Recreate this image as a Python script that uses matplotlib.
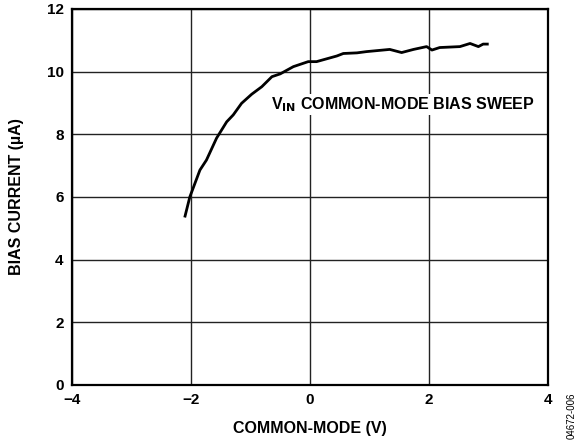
import matplotlib
matplotlib.use('Agg')
import matplotlib.pyplot as plt

plt.rcParams['font.family'] = ['Liberation Sans', 'DejaVu Sans']
plt.rcParams['font.weight'] = 'bold'

# Bias current vs common-mode voltage
vcm = [-2.10, -2.02, -1.85, -1.74, -1.57, -1.40, -1.29, -1.15, -0.98, -0.81,
       -0.64, -0.50, -0.28, -0.03, 0.11, 0.45, 0.56, 0.79, 0.95, 1.34,
       1.54, 1.74, 1.96, 2.05, 2.18, 2.52, 2.69, 2.83, 2.91, 2.98]
ibias = [5.39, 6.00, 6.86, 7.18, 7.88, 8.40, 8.62, 8.99, 9.28, 9.52,
         9.84, 9.93, 10.16, 10.32, 10.32, 10.50, 10.58, 10.60, 10.64, 10.71,
         10.61, 10.71, 10.80, 10.69, 10.77, 10.80, 10.90, 10.80, 10.88, 10.88]

xticks = [-4, -2, 0, 2, 4]
yticks = [0, 2, 4, 6, 8, 10, 12]
xtick_labels = ['\u22124', '\u22122', '0', '2', '4']

fig = plt.figure(figsize=(5.76, 4.43), dpi=100)
ax = fig.add_axes([72/576, 1 - 385/443, 476/576, 376/443])

ax.plot(vcm, ibias, color='black', linewidth=2, zorder=3)

ax.set_xlim(-4, 4)
ax.set_ylim(0, 12)
ax.set_xticks(xticks)
ax.set_xticklabels(xtick_labels)
ax.set_yticks(yticks)
ax.tick_params(length=0, labelsize=11, pad=6)
ax.grid(True, color='#222222', linewidth=1)
for s in ax.spines.values():
    s.set_linewidth(1.6)

ax.set_xlabel('COMMON-MODE (V)', fontsize=11.5, fontweight='bold', labelpad=10)
ax.set_ylabel('BIAS CURRENT (\u00b5A)', fontsize=11.5, fontweight='bold', labelpad=16)

ax.text(-0.65, 8.95, r'V$_{\mathbf{IN}}$ COMMON-MODE BIAS SWEEP', fontsize=11.5,
        fontweight='bold', va='center', ha='left', zorder=4,
        bbox=dict(facecolor='white', edgecolor='none', pad=1))

fig.text(572/576, 1 - 416/443, '04672-006', rotation=90, fontsize=7,
         fontweight='normal', ha='center', va='center')

plt.savefig('out.png', dpi=100)
plt.close()
